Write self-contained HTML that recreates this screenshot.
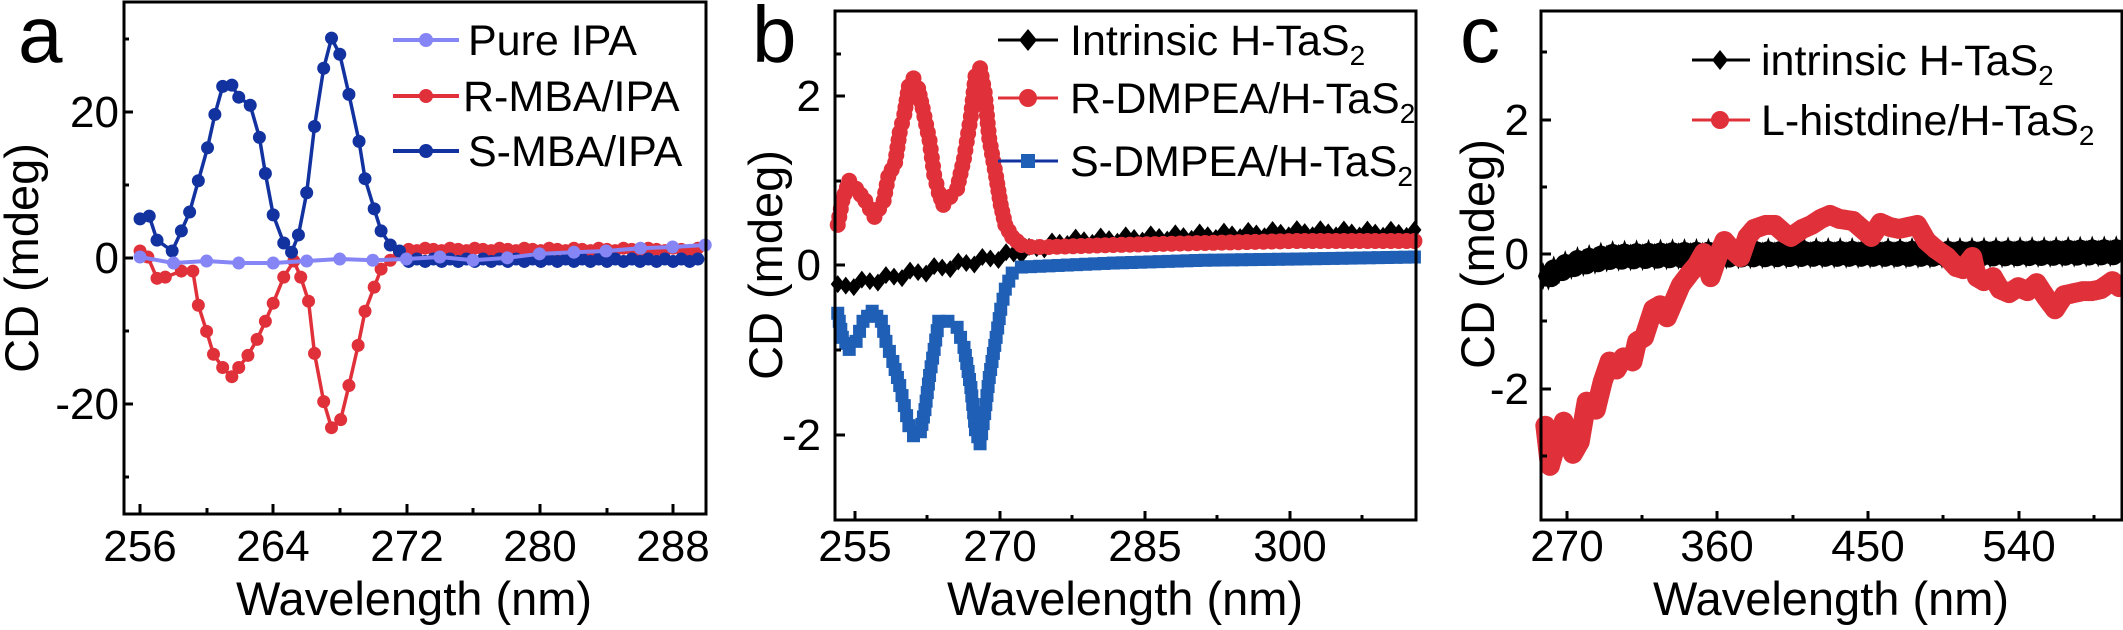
<!DOCTYPE html>
<html><head><meta charset="utf-8"><style>
html,body{margin:0;padding:0;background:#fff;}
svg{display:block;font-family:"Liberation Sans",Arial,sans-serif;}
</style></head><body>
<svg id="s" width="2123" height="630" viewBox="0 0 2123 630" xmlns="http://www.w3.org/2000/svg">
<rect width="2123" height="630" fill="#fff"/>
<g id="plots"></g>
<text x="18" y="62" font-size="80">a</text>
<text x="752" y="62" font-size="80">b</text>
<text x="1460" y="62" font-size="80">c</text>
<text transform="translate(38,258) rotate(-90)" font-size="47" text-anchor="middle">CD (mdeg)</text>
<text transform="translate(782,265) rotate(-90)" font-size="47" text-anchor="middle">CD (mdeg)</text>
<text transform="translate(1494,254) rotate(-90)" font-size="47" text-anchor="middle">CD (mdeg)</text>
<text x="414" y="615" font-size="47" text-anchor="middle">Wavelength (nm)</text>
<text x="1125" y="615" font-size="47" text-anchor="middle">Wavelength (nm)</text>
<text x="1831" y="615" font-size="47" text-anchor="middle">Wavelength (nm)</text>
<g font-size="43">
<line x1="393" y1="40" x2="459" y2="40" stroke="#8585f5" stroke-width="4"/><circle cx="426" cy="40" r="7" fill="#8585f5"/>
<text x="468" y="55">Pure IPA</text>
<line x1="393" y1="96" x2="459" y2="96" stroke="#e0313a" stroke-width="4"/><circle cx="426" cy="96" r="7" fill="#e0313a"/>
<text x="463" y="111">R-MBA/IPA</text>
<line x1="393" y1="151" x2="459" y2="151" stroke="#1232a0" stroke-width="4"/><circle cx="426" cy="151" r="7" fill="#1232a0"/>
<text x="468" y="166">S-MBA/IPA</text>

<line x1="998" y1="40" x2="1058" y2="40" stroke="#000" stroke-width="3"/><polygon points="1028,29 1037,40 1028,51 1019,40" fill="#000"/>
<text x="1070" y="55">Intrinsic H-TaS<tspan font-size="28" dy="10">2</tspan></text>
<line x1="998" y1="98" x2="1058" y2="98" stroke="#e0313a" stroke-width="3"/><circle cx="1028" cy="98" r="9" fill="#e0313a"/>
<text x="1070" y="113">R-DMPEA/H-TaS<tspan font-size="28" dy="10">2</tspan></text>
<line x1="998" y1="161" x2="1058" y2="161" stroke="#1232a0" stroke-width="3"/><rect x="1021" y="154" width="14" height="14" fill="#1f5fb5"/>
<text x="1070" y="176">S-DMPEA/H-TaS<tspan font-size="28" dy="10">2</tspan></text>

<line x1="1692" y1="60" x2="1750" y2="60" stroke="#000" stroke-width="3"/><polygon points="1720,50 1728,60 1720,70 1712,60" fill="#000"/>
<text x="1761" y="75">intrinsic H-TaS<tspan font-size="28" dy="10">2</tspan></text>
<line x1="1692" y1="120" x2="1750" y2="120" stroke="#e0313a" stroke-width="3"/><circle cx="1720" cy="120" r="9" fill="#e0313a"/>
<text x="1761" y="135">L-histdine/H-TaS<tspan font-size="28" dy="10">2</tspan></text>
</g>
</svg>
<script>
var NS="http://www.w3.org/2000/svg",G=document.getElementById("plots");
function el(t,a){var e=document.createElementNS(NS,t);for(var k in a)e.setAttribute(k,a[k]);G.appendChild(e);return e;}
function conv(pts,ox){return pts.map(function(p){return [ox+p[0]/2.178,p[1]/2.49];});}
function interp(pts,step){var o=[];for(var i=0;i<pts.length-1;i++){var a=pts[i],b=pts[i+1];var d=Math.hypot(b[0]-a[0],b[1]-a[1]);var n=Math.max(1,Math.round(d/step));for(var j=0;j<n;j++){var t=j/n;o.push([a[0]+(b[0]-a[0])*t,a[1]+(b[1]-a[1])*t]);}}o.push(pts[pts.length-1]);return o;}
function line(p,c,w){el("polyline",{points:p.map(function(q){return q.join(",")}).join(" "),fill:"none",stroke:c,"stroke-width":w,"stroke-linejoin":"round"});}
function circ(p,c,r){p.forEach(function(q){el("circle",{cx:q[0],cy:q[1],r:r,fill:c});});}
function sq(p,c,s){p.forEach(function(q){el("rect",{x:q[0]-s/2,y:q[1]-s/2,width:s,height:s,fill:c});});}
function dia(p,c,w,h){p.forEach(function(q){el("polygon",{points:[q[0],q[1]-h/2,q[0]+w/2,q[1],q[0],q[1]+h/2,q[0]-w/2,q[1]].join(" "),fill:c});});}
function frame(x1,y1,x2,y2){el("rect",{x:x1,y:y1,width:x2-x1,height:y2-y1,fill:"none",stroke:"#000","stroke-width":3});}
function tx(x,y,s,anchor){var e=el("text",{x:x,y:y,"font-size":44,"text-anchor":anchor||"middle"});e.textContent=s;}
function ticksX(list,y,major0){list.forEach(function(x,i){var L=((i+major0)%2==0)?9:5;el("line",{x1:x,y1:y,x2:x,y2:y-L,stroke:"#000","stroke-width":3});});}
function ticksY(list,x,major0){list.forEach(function(y,i){var L=((i+major0)%2==0)?9:5;el("line",{x1:x,y1:y,x2:x+L,y2:y,stroke:"#000","stroke-width":3});});}

/* ---------- Panel a ---------- */
var blueA=[[305,545],[325,538],[342,598],[375,625],[395,575],[413,528],[432,450],[452,368],[468,285],[485,215],[505,212],[520,242],[545,262],[565,342],[578,432],[595,535],[618,605],[635,628],[650,585],[668,480],[685,315],[705,170],[722,95],[740,135],[760,235],[782,352],[795,445],[815,520],[830,575],[850,610],[870,625]];
var redA=[[305,625],[322,640],[342,693],[360,690],[395,675],[420,675],[432,760],[450,825],[465,882],[485,915],[505,938],[520,915],[540,885],[560,845],[578,800],[595,755],[618,690],[640,650],[655,690],[672,750],[685,880],[705,1000],[722,1065],[742,1045],[760,960],[780,860],[795,775],[815,715],[830,670],[850,648],[870,630]];
var pure=[[305,640],[378,655],[450,650],[520,655],[595,655],[668,650],[740,645],[812,648],[885,645],[958,640],[1030,648],[1105,642],[1175,632],[1250,628],[1320,625],[1395,618],[1465,615],[1536,610]];
for(var x=890;x<=1536;x+=18){blueA.push([x,645+((x/18|0)%2)*6]);}
var redTail=[];for(var x=890;x<=1536;x+=18){redTail.push([x,618+((x/18|0)%3)*3]);}
var bA=conv(blueA,0),rA=conv(redA.concat(redTail),0),pA=conv(pure,0);
line(rA,"#e0313a",3.5);circ(rA,"#e0313a",6.5);
line(bA,"#1232a0",3.5);circ(bA,"#1232a0",6.5);
line(pA,"#8585f5",4);circ(pA,"#8585f5",6.5);
frame(124,2,706,514);
var xa=[140,207,273,340,407,473,540,607,673];ticksX(xa,513,0);
[256,264,272,280,288].forEach(function(v,i){tx(xa[i*2],561,v);});
var ya=[39,112,185,258,331,404,477];ticksY(ya,124,1);
tx(119,127,"20","end");tx(119,273,"0","end");tx(119,419,"-20","end");

/* ---------- Panel b ---------- */
var redB=[[300,560],[310,500],[325,450],[340,470],[360,500],[380,540],[400,500],[410,440],[425,405],[435,330],[445,285],[455,215],[465,195],[475,220],[485,270],[500,350],[510,435],[520,480],[530,510],[545,490],[560,470],[575,395],[590,290],[600,190],[610,170],[620,230],[630,345],[645,440],[655,510],[665,560],[680,590],[700,610],[720,615],[760,615],[900,610],[1100,605],[1300,600],[1556,600]];
var blueB=[[300,780],[310,840],[325,870],[340,850],[355,800],[375,775],[395,800],[405,850],[420,900],[435,960],[445,1010],[455,1060],[465,1085],[480,1075],[490,1020],[500,935],[510,870],[520,800],[540,800],[560,815],[575,865],[590,965],[600,1070],[610,1105],[620,1030],[630,940],[645,840],[655,770],[665,720],[680,680],[700,665],[900,655],[1100,648],[1300,645],[1556,640]];
var blackB=[[300,715],[650,640],[800,600],[1000,590],[1300,578],[1556,580]];
var kb=conv(blackB,700),kbi=interp(kb,8);
kbi=kbi.map(function(q,i){return [q[0],q[1]+((i%3)-1)*3];});
line(kbi,"#000",3);dia(kbi,"#000",14,18);
var rb=interp(conv(redB,700),8);line(conv(redB,700),"#e0313a",3);circ(rb,"#e0313a",8);
var bb=interp(conv(blueB,700),9);line(conv(blueB,700),"#1232a0",3);sq(bb,"#1f5fb5",13);
frame(835,11,1416,520);
var xb=[855,927,1000,1072,1145,1217,1290,1362];ticksX(xb,520,0);
tx(855,561,"255");tx(1000,561,"270");tx(1145,561,"285");tx(1290,561,"300");
var yb=[54,96,181,265,350,435];ticksY(yb,836,1);
tx(821,111,"2","end");tx(821,280,"0","end");tx(821,450,"-2","end");

/* ---------- Panel c ---------- */
var redC=[[310,1060],[320,1160],[335,1100],[350,1050],[370,1130],[385,1100],[400,1000],[420,1020],[435,950],[450,900],[465,920],[480,890],[500,900],[510,850],[525,840],[545,770],[560,760],[575,790],[590,750],[605,710],[625,680],[640,660],[655,630],[670,690],[685,640],[700,600],[715,620],[735,640],[750,590],[765,570],[790,560],[810,560],[830,580],[845,590],[870,570],[890,560],[910,545],[930,535],[950,545],[980,550],[1000,570],[1020,590],[1040,555],[1060,565],[1080,570],[1100,565],[1120,560],[1140,600],[1160,620],[1185,640],[1205,665],[1220,670],[1240,640],[1250,690],[1265,700],[1285,690],[1300,720],[1320,730],[1340,715],[1360,725],[1380,705],[1400,740],[1420,770],[1440,735],[1460,730],[1480,725],[1500,725],[1520,720],[1545,700],[1560,715]];
var blackC=[[305,695],[340,670],[380,655],[450,640],[600,635],[900,632],[1200,632],[1560,628]];
var kc=interp(conv(blackC,1403),3);
kc=kc.map(function(q,i){return [q[0],q[1]+((i%4)-1.5)*2];});
el("polyline",{points:kc.map(function(q){return q.join(",")}).join(" "),fill:"none",stroke:"#000","stroke-width":20,"stroke-linejoin":"round"});
dia(kc.filter(function(q,i){return i%2==0;}),"#000",10,28);
var rc=interp(conv(redC,1403),3);circ(rc,"#e0313a",10);
frame(1541,11,2122,520);
var xc=[1567,1642,1717,1793,1868,1943,2019,2094];ticksX(xc,520,0);
tx(1567,561,"270");tx(1717,561,"360");tx(1868,561,"450");tx(2019,561,"540");
var yc=[52,120,187,254,321,389,456];ticksY(yc,1542,1);
tx(1529,135,"2","end");tx(1529,269,"0","end");tx(1529,404,"-2","end");
</script>
</body></html>
